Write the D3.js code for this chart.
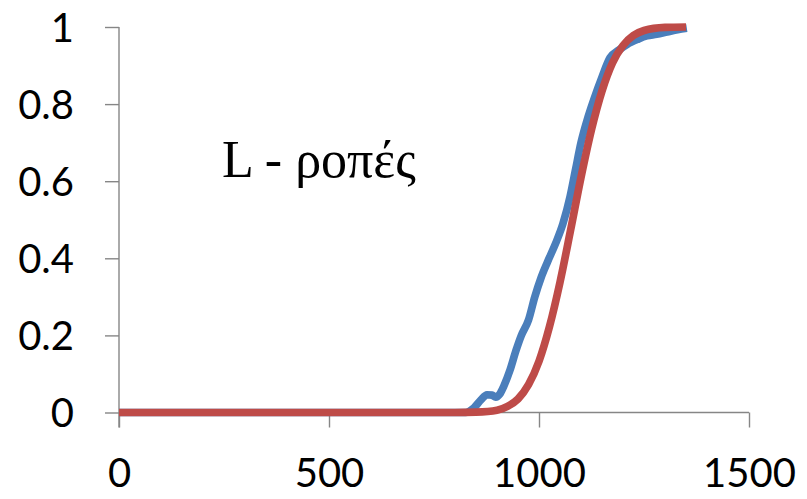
<!DOCTYPE html>
<html>
<head>
<meta charset="utf-8">
<script src="https://cdn.jsdelivr.net/npm/d3@7/dist/d3.min.js"></script>
<style>
  html, body { margin: 0; padding: 0; background: #fff; }
  svg { display: block; }
</style>
</head>
<body>
<svg id="chart" width="807" height="499"></svg>
<script>
// Cumulative distribution of L moments: observed (blue) and fitted (red)
const observedX = [0, 100, 200, 300, 400, 500, 600, 700, 800, 825, 845, 862, 876, 888, 897, 906, 916, 931, 945, 958, 975, 990, 1005, 1020, 1040, 1057, 1074, 1087, 1100, 1115, 1130, 1150, 1169, 1190, 1210, 1235, 1257, 1280, 1305, 1330, 1352];
const observedY = [0, 0, 0, 0, 0, 0, 0, 0, 0, 0, 0.012, 0.033, 0.046, 0.045, 0.040, 0.047, 0.068, 0.11, 0.16, 0.20, 0.24, 0.30, 0.35, 0.39, 0.44, 0.49, 0.56, 0.63, 0.70, 0.76, 0.81, 0.87, 0.92, 0.94, 0.955, 0.968, 0.977, 0.981, 0.987, 0.993, 0.997];

const fittedX = [0, 100, 200, 300, 400, 500, 600, 700, 800, 850, 900, 925, 950, 975, 1000, 1025, 1050, 1075, 1100, 1125, 1150, 1175, 1200, 1225, 1250, 1300, 1350];
const fittedY = [0, 0, 0, 0, 0, 0, 0, 0, 0, 0.001, 0.006, 0.016, 0.035, 0.072, 0.133, 0.223, 0.338, 0.472, 0.61, 0.734, 0.834, 0.907, 0.952, 0.978, 0.991, 0.999, 1.0];

const xTicks = [0, 500, 1000, 1500];
const yTicks = [0, 0.2, 0.4, 0.6, 0.8, 1];
const yTickLabels = ["0", "0.2", "0.4", "0.6", "0.8", "1"];
const annotation = "L - ροπές";

const svg = d3.select("#chart");
const axisColor = "#868686";
const tickFont = "Lato, 'Open Sans', sans-serif";

const x = d3.scaleLinear().domain([0, 1500]).range([119, 749]);
const y = d3.scaleLinear().domain([0, 1]).range([412.5, 27]);

// Y axis
const yAxis = d3.axisLeft(y)
  .tickValues(yTicks)
  .tickFormat((d, i) => yTickLabels[i])
  .tickSize(14)
  .tickPadding(31);
const gy = svg.append("g").attr("transform", `translate(${x(0)},0)`).call(yAxis);
gy.select(".domain").attr("stroke", axisColor).attr("stroke-width", 1.4)
  .attr("d", `M0,${y(1)}V${y(0) + 15}`);
gy.selectAll(".tick line").attr("stroke", axisColor).attr("stroke-width", 1.4);
gy.selectAll(".tick text")
  .attr("fill", "#000")
  .style("font-family", tickFont)
  .style("font-size", "40px")
  .attr("dy", "0.35em");

// X axis
const xAxis = d3.axisBottom(x)
  .tickValues(xTicks)
  .tickFormat(d3.format("d"))
  .tickSize(15)
  .tickPadding(31);
const gx = svg.append("g").attr("transform", `translate(0,${y(0)})`).call(xAxis);
gx.select(".domain").attr("stroke", axisColor).attr("stroke-width", 1.4)
  .attr("d", `M${x(0)},0H${x(1500)}`);
gx.selectAll(".tick line").attr("stroke", axisColor).attr("stroke-width", 1.4);
gx.selectAll(".tick text")
  .attr("fill", "#000")
  .style("font-family", tickFont)
  .style("font-size", "40px")
  .attr("dy", "0.71em");

// Curves
const line = d3.line()
  .x(d => x(d[0]))
  .y(d => y(d[1]))
  .curve(d3.curveMonotoneX);

const observed = observedX.map((v, i) => [v, observedY[i]]);
const fitted = fittedX.map((v, i) => [v, fittedY[i]]);

svg.append("path")
  .datum(observed)
  .attr("d", line)
  .attr("fill", "none")
  .attr("stroke", "#4A7EBB")
  .attr("stroke-width", 7.7)
  .attr("stroke-linejoin", "round");

svg.append("path")
  .datum(fitted)
  .attr("d", line)
  .attr("fill", "none")
  .attr("stroke", "#BE4B48")
  .attr("stroke-width", 7.7)
  .attr("stroke-linejoin", "round");

// Annotation
svg.append("text")
  .attr("x", 222)
  .attr("y", 177)
  .style("font-family", "'Liberation Serif', 'Times New Roman', serif")
  .style("font-size", "52px")
  .attr("fill", "#000")
  .text(annotation);
</script>
</body>
</html>
